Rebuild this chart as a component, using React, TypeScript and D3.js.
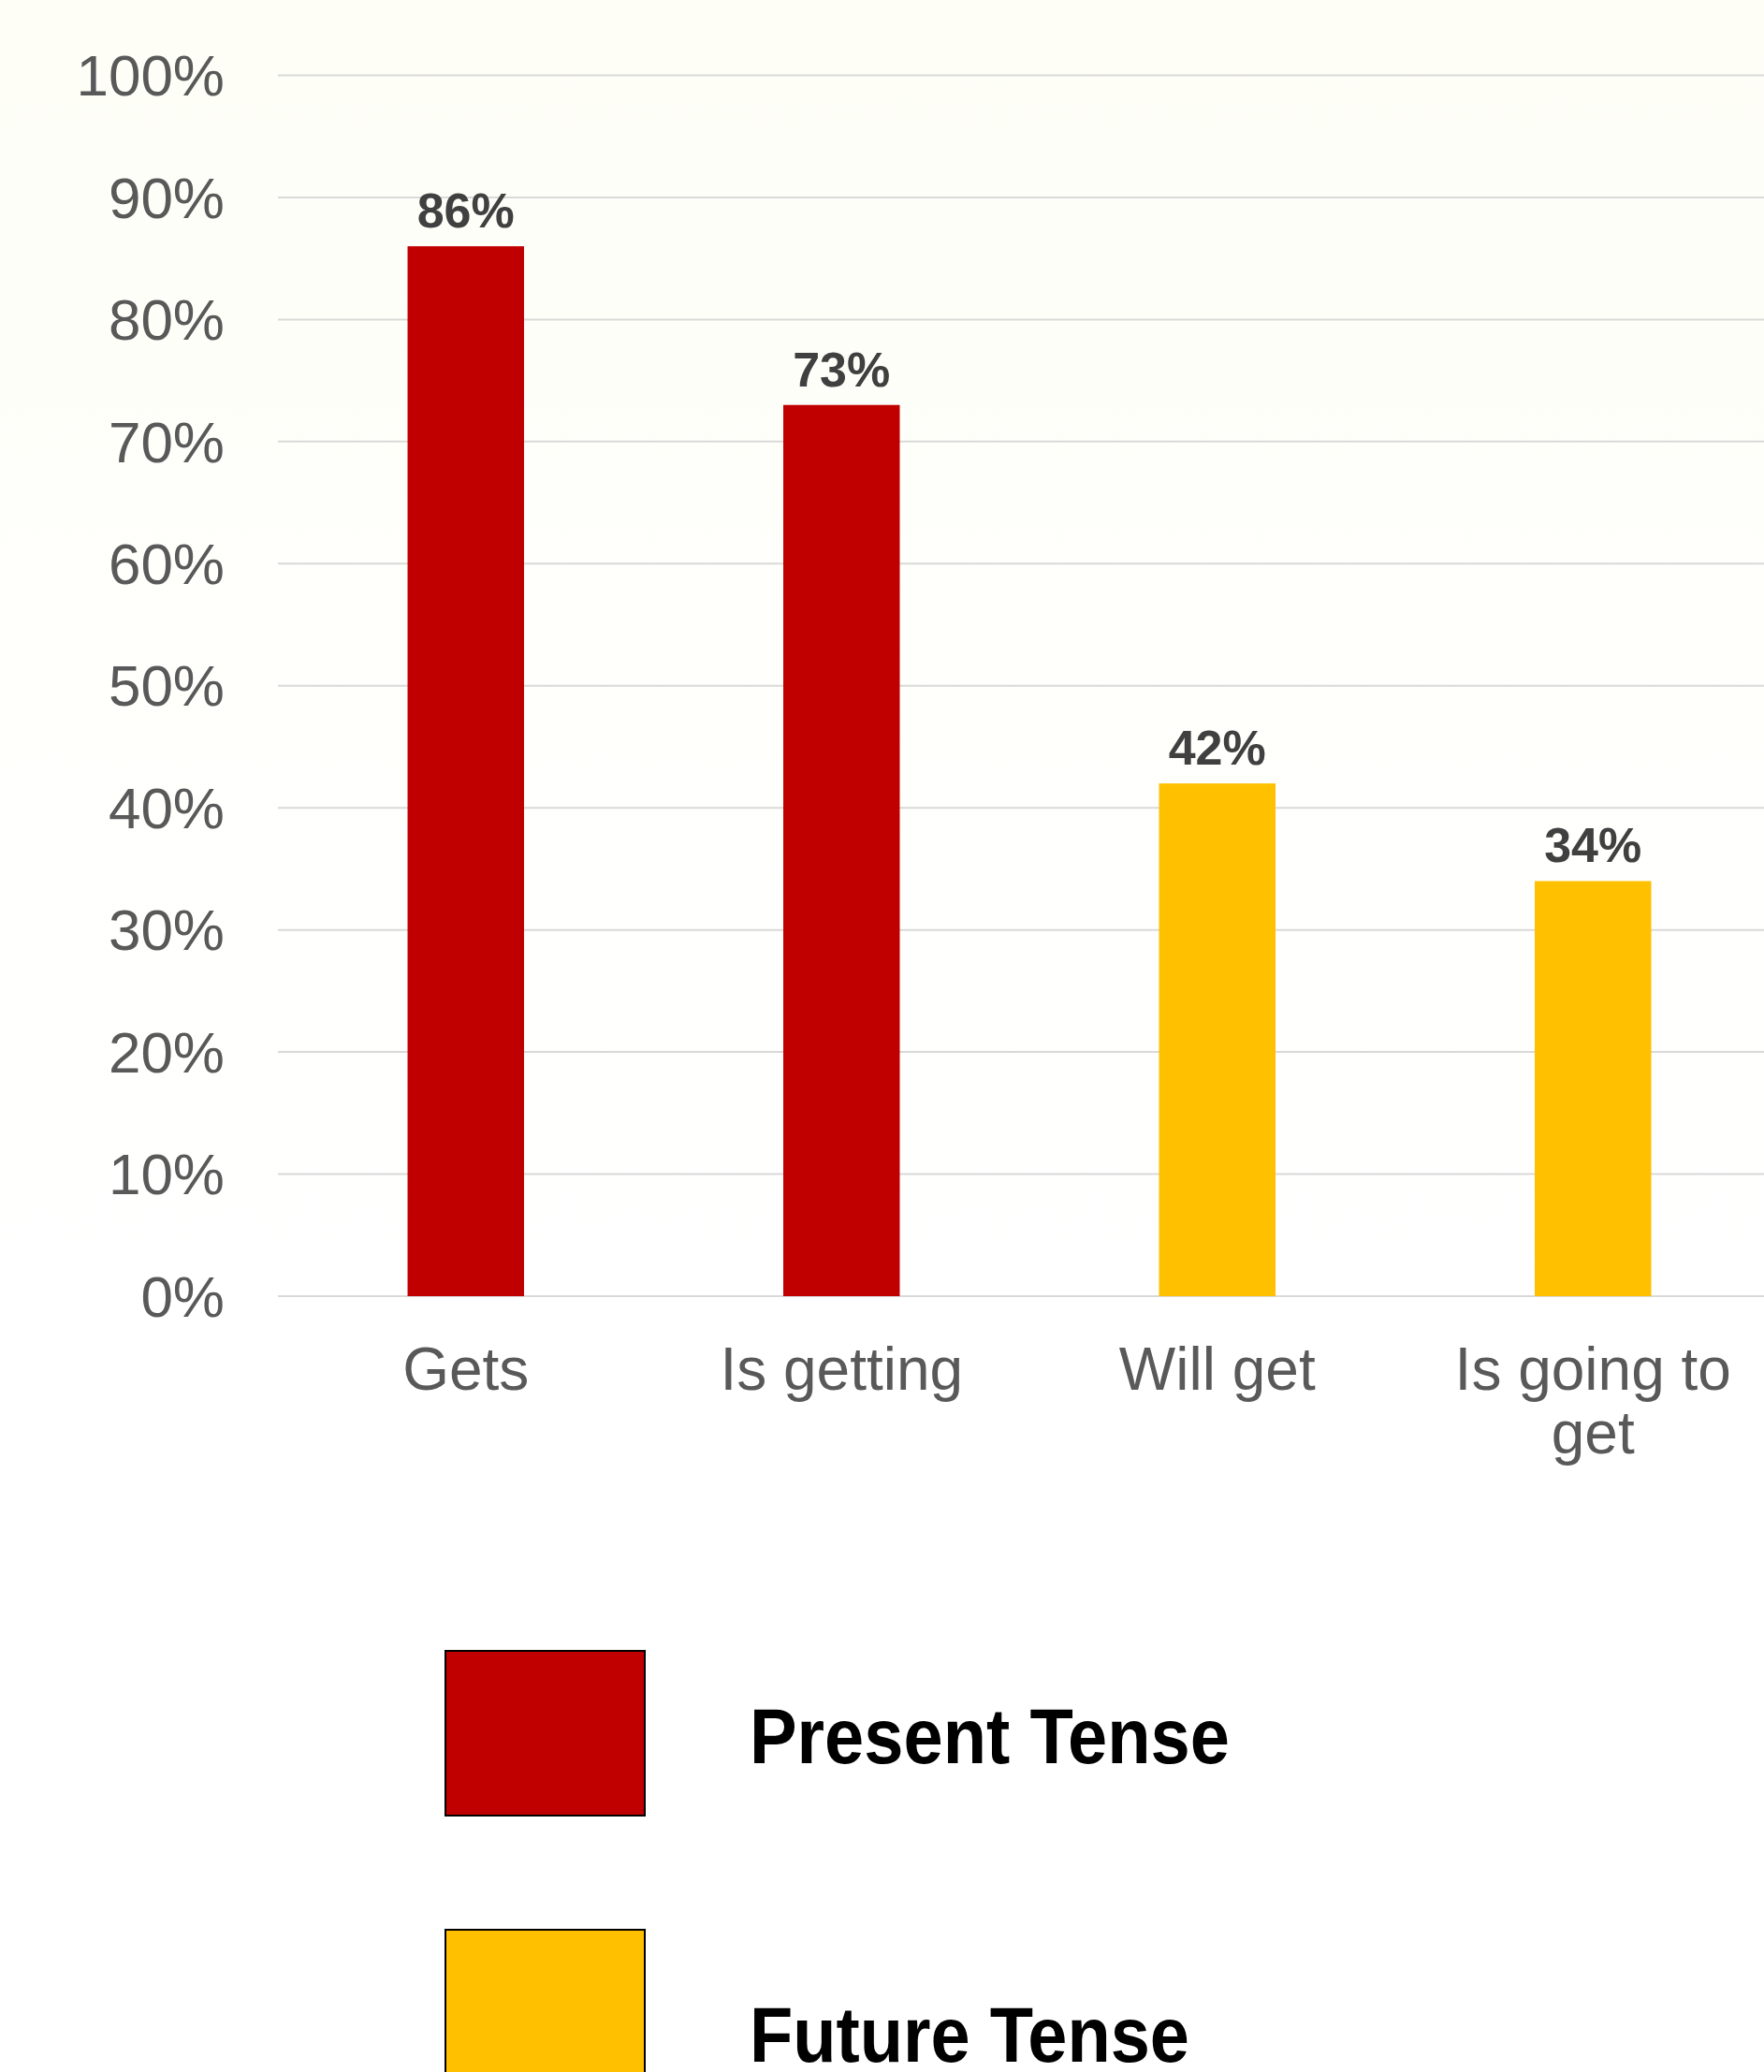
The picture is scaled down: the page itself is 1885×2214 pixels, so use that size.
import React from "react";
import * as d3 from "d3";

const categories = ["Gets", "Is getting", "Will get", "Is going to get"];
const categoryLines = [["Gets"], ["Is getting"], ["Will get"], ["Is going to", "get"]];
const values = [0.86, 0.73, 0.42, 0.34];
const groups = ["present", "present", "future", "future"];
const yTicks = [0, 0.1, 0.2, 0.3, 0.4, 0.5, 0.6, 0.7, 0.8, 0.9, 1.0];
const legendItems = [
  { key: "present", label: "Present Tense" },
  { key: "future", label: "Future Tense" },
];

const W = 1885;
const H = 2214;

export default function App() {
  const x = d3.scaleBand<string>().domain(categories).range([297, 1903]).paddingInner(0.69).paddingOuter(0.345);
  const y = d3.scaleLinear().domain([0, 1]).range([1385, 80.5]);
  const color = d3.scaleOrdinal<string, string>().domain(["present", "future"]).range(["#C00000", "#FFC000"]);
  const pct = d3.format(".0%");
  const font = "'Liberation Sans', Arial, Helvetica, sans-serif";

  return (
    <div style={{ position: "absolute", left: 0, top: 0 }}>
      <svg width={W} height={H} viewBox={`0 0 ${W} ${H}`} style={{ display: "block" }}>
        <defs>
          <linearGradient id="bg" x1="0" y1="0" x2="0" y2="1">
            <stop offset="0" stopColor="#FEFEF7" />
            <stop offset="0.62" stopColor="#FFFFFF" />
            <stop offset="1" stopColor="#FFFFFF" />
          </linearGradient>
        </defs>
        <rect x={0} y={0} width={W} height={H} fill="url(#bg)" />
        {yTicks.map((t) => (
          <g key={t}>
            <line x1={297} x2={W} y1={y(t)} y2={y(t)} stroke="#D9D9D9" strokeWidth={2} />
            <text
              x={240}
              y={y(t)}
              dy="0.35em"
              textAnchor="end"
              fontFamily={font}
              fontSize={62}
              fill="#595959"
            >
              {pct(t)}
            </text>
          </g>
        ))}
        {categories.map((c, i) => {
          const bx = x(c) as number;
          const bw = x.bandwidth();
          const cx = bx + bw / 2;
          return (
            <g key={c}>
              <rect x={bx} y={y(values[i])} width={bw} height={y(0) - y(values[i])} fill={color(groups[i])} />
              <text
                x={cx}
                y={y(values[i]) - 20}
                textAnchor="middle"
                fontFamily={font}
                fontWeight="bold"
                fontSize={52}
                fill="#404040"
              >
                {pct(values[i])}
              </text>
              {categoryLines[i].map((ln, j) => (
                <text
                  key={j}
                  x={cx}
                  y={1485 + j * 68}
                  textAnchor="middle"
                  fontFamily={font}
                  fontSize={64}
                  fill="#595959"
                >
                  {ln}
                </text>
              ))}
            </g>
          );
        })}
        {legendItems.map((it, i) => {
          const top = 1764 + i * 298;
          return (
            <g key={it.key}>
              <rect x={476} y={top} width={213} height={176} fill={color(it.key)} stroke="#000" strokeWidth={2} />
              <text
                x={801}
                y={top + 120 + i * 21}
                fontFamily={font}
                fontWeight="bold"
                fontSize={83}
                fill="#000"
                textLength={i === 0 ? 513 : 470}
                lengthAdjust="spacingAndGlyphs"
              >
                {it.label}
              </text>
            </g>
          );
        })}
      </svg>
    </div>
  );
}
